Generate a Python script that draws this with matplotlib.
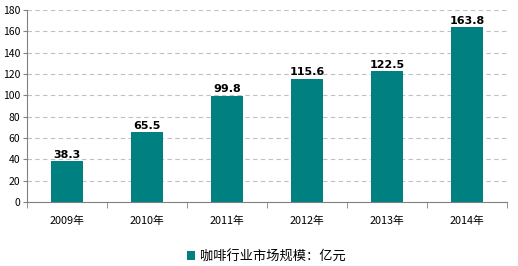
import matplotlib.pyplot as plt
import numpy as np

plt.rcParams['font.family'] = ['Noto Sans CJK SC', 'DejaVu Sans']

years = ['2009年', '2010年', '2011年', '2012年', '2013年', '2014年']
values = [38.3, 65.5, 99.8, 115.6, 122.5, 163.8]
yticks = [0, 20, 40, 60, 80, 100, 120, 140, 160, 180]
series_name = '咖啡行业市场规模：亿元'
bar_color = '#008080'

fig = plt.figure(figsize=(5.18, 2.66), dpi=100)
ax = fig.add_axes([0.0521, 0.2406, 0.9267, 0.7218])

x = np.arange(len(years))
bars = ax.bar(x, values, width=0.4, color=bar_color, zorder=3, label=series_name)
for xi, v in zip(x, values):
    ax.text(xi, v + 1.5, f'{v:.1f}', ha='center', va='bottom',
            fontsize=8, fontweight='bold', family='DejaVu Sans', zorder=4)

ax.set_xlim(-0.5, len(years) - 0.5)
ax.set_ylim(0, 180)
ax.set_yticks(yticks)
ax.set_yticklabels([str(t) for t in yticks], fontsize=7.5)
ax.set_xticks(x)
ax.set_xticklabels(years, fontsize=7.8)
ax.set_xticks(np.arange(len(years) + 1) - 0.5, minor=True)
ax.tick_params(axis='x', which='major', length=0, pad=10)
ax.tick_params(axis='x', which='minor', length=4, color='#808080')
ax.tick_params(axis='y', length=3, color='#808080', pad=2)

ax.grid(axis='y', color='#c0c0c0', linestyle=(0, (4, 3)), linewidth=0.8, zorder=0)
for side in ['top', 'right']:
    ax.spines[side].set_visible(False)
for side in ['left', 'bottom']:
    ax.spines[side].set_color('#808080')

fig.legend(handles=[bars], labels=[series_name], loc='center',
           bbox_to_anchor=(0.515, 0.035), frameon=False, fontsize=9.5,
           handlelength=0.6, handleheight=0.6, handletextpad=0.4)

fig.savefig('out.png', dpi=100)
